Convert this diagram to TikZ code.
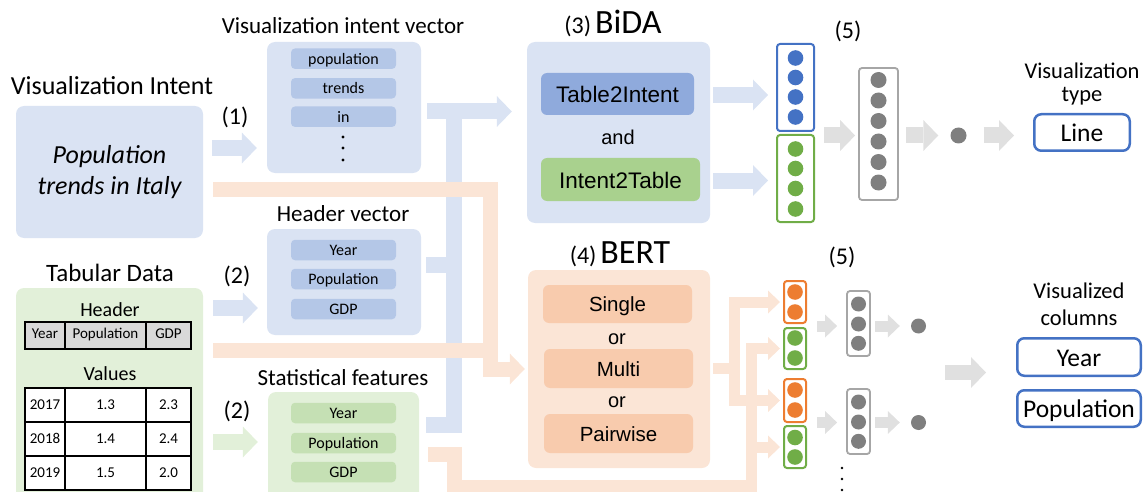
\documentclass[tikz,border=0pt]{standalone}
\usepackage{fontspec}
\setmainfont{Carlito}
\newfontfamily\arialfont{Liberation Sans}
\usetikzlibrary{arrows.meta}

\definecolor{paneblue}{HTML}{DAE3F3}
\definecolor{itemblue}{HTML}{B4C7E7}
\definecolor{panegreen}{HTML}{E2F0D9}
\definecolor{itemgreen}{HTML}{C5E0B4}
\definecolor{paneorange}{HTML}{FBE5D6}
\definecolor{itemorange}{HTML}{F8CBAD}
\definecolor{tiblue}{HTML}{8FAADC}
\definecolor{itgreen}{HTML}{A9D18E}
\definecolor{accblue}{HTML}{4472C4}
\definecolor{accgreen}{HTML}{70AD47}
\definecolor{accorange}{HTML}{ED7D31}
\definecolor{dotgray}{HTML}{7F7F7F}
\definecolor{boxgray}{HTML}{A6A6A6}
\definecolor{flowgray}{HTML}{E0E0E0}
\definecolor{cellgray}{HTML}{D9D9D9}

\newcommand{\fsz}[1]{\fontsize{#1}{#1}\selectfont}

\begin{document}
\begin{tikzpicture}[x=1pt,y=-1pt,
  pane/.style={fill=#1, rounded corners=8pt, inner sep=0pt},
  item/.style={fill=#1, rounded corners=4pt, minimum width=105pt, minimum height=20.5pt, inner sep=0pt, text height=11pt, text depth=0pt, font=\fsz{16}},
  bar/.style={fill=#1, rounded corners=6pt, inner sep=0pt, text depth=0pt},
  title/.style={anchor=base, inner sep=0pt, font=\fsz{23}},
  cell/.style={inner sep=0pt, text height=9pt, text depth=0pt, font=\fsz{15}},
  vec/.style={draw=#1, line width=2pt, rounded corners=3pt, inner sep=0pt},
  outbox/.style={draw=accblue, line width=2.5pt, rounded corners=7pt, inner sep=0pt, text height=18.5pt, text depth=0pt, font=\fsz{25.5}},
  flow/.style={draw=#1, line width=16pt, -{Triangle[width=31pt,length=15pt,line width=0pt]}},
  sflow/.style={draw=#1, line width=11pt, -{Triangle[width=23pt,length=12pt,line width=0pt]}},
  band/.style={draw=#1, line width=15pt},
  dot/.style={circle, fill=#1, inner sep=0pt, minimum size=15pt},
]
\useasboundingbox (0,0) rectangle (1143,492);
\clip (0,0) rectangle (1143,492);

% inputs
\node[title, font=\fsz{26}] (intenttitle) at (112,94.5) {Visualization Intent};
\node[pane=paneblue, minimum width=187pt, minimum height=132pt, align=center, font=\itshape\fontsize{26}{31}\selectfont] (intent) at (109.5,172) {Population\\trends in Italy};

\node[title, font=\fsz{25}] (tabtitle) at (110,281.7) {Tabular Data};
\node[pane=panegreen, minimum width=187pt, minimum height=222pt] (tab) at (109.5,399) {};
\node[title, font=\fsz{20}] (hdrtitle) at (110,316.7) {Header};
\draw[fill=cellgray, line width=1.5pt] (25,322) rectangle (191,349);
\draw[line width=1.5pt] (65,322) -- (65,349) (146,322) -- (146,349);
\node[cell] (hyear) at (45,334) {Year};
\node[cell] (hpop) at (105.5,334) {Population};
\node[cell] (hgdp) at (168.5,334) {GDP};
\node[title, font=\fsz{20}] (valtitle) at (110,380.7) {Values};
\draw[fill=white, line width=1.5pt] (25,388) rectangle (191,490);
\draw[line width=1.5pt] (65,388) -- (65,490) (146,388) -- (146,490) (25,422) -- (191,422) (25,456) -- (191,456);
\node[cell] (ya) at (45,405) {2017};
\node[cell] (pa) at (105.5,405) {1.3};
\node[cell] (ga) at (168.5,405) {2.3};
\node[cell] (yb) at (45,439) {2018};
\node[cell] (pb) at (105.5,439) {1.4};
\node[cell] (gb) at (168.5,439) {2.4};
\node[cell] (yc) at (45,473) {2019};
\node[cell] (pc) at (105.5,473) {1.5};
\node[cell] (gc) at (168.5,473) {2.0};

\node[title, font=\fsz{24}] (stepone) at (235,125) {(1)};
\node[title, font=\fsz{24}] (stephdr) at (237,283) {(2)};
\node[title, font=\fsz{24}] (stepstat) at (237,418) {(2)};

% vectors
\node[title] (ivectitle) at (343,33.5) {Visualization intent vector};
\node[pane=paneblue, minimum width=154pt, minimum height=131pt] (ivec) at (344,107.5) {};
\node[item=itemblue] (wpop) at (343.5,58.7) {population};
\node[item=itemblue] (wtrends) at (343.5,88.3) {trends};
\node[item=itemblue] (win) at (343.5,116.7) {in};
\fill (343,137) circle (1.6);
\fill (343,148) circle (1.6);
\fill (343,160) circle (1.6);

\node[title] (hvectitle) at (343,221.7) {Header vector};
\node[pane=paneblue, minimum width=154pt, minimum height=106pt] (hvec) at (344,282) {};
\node[item=itemblue] (hvyear) at (343.5,250) {Year};
\node[item=itemblue] (hvpop) at (343.5,279) {Population};
\node[item=itemblue] (hvgdp) at (343.5,309) {GDP};

\node[title] (stattitle) at (343,385) {Statistical features};
\node[pane=panegreen, minimum width=151pt, minimum height=118pt] (stat) at (343.5,451) {};
\node[item=itemgreen] (syear) at (343.5,413) {Year};
\node[item=itemgreen] (spop) at (343.5,443) {Population};
\node[item=itemgreen] (sgdp) at (343.5,472) {GDP};

% BiDA
\node[anchor=base, inner sep=0pt] (bidatitle) at (613,33.3) {\fsz{24}(3)\,\fsz{34}BiDA};
\node[pane=paneblue, minimum width=183pt, minimum height=181pt] (bida) at (618.5,132.5) {};
\node[bar=tiblue, minimum width=153pt, minimum height=42pt, text height=17pt, font=\arialfont\fsz{22.5}] (t2i) at (617.5,94) {Table2Intent};
\node[anchor=base, inner sep=0pt, font=\arialfont\fsz{20}] (andlabel) at (618,145) {and};
\node[bar=itgreen, minimum width=159pt, minimum height=43pt, text height=17pt, font=\arialfont\fsz{22.5}] (i2t) at (620.5,179.5) {Intent2Table};

% BERT
\node[anchor=base, inner sep=0pt] (berttitle) at (620,263.3) {\fsz{24}(4)\,\fsz{34}BERT};
\node[pane=paneorange, minimum width=182pt, minimum height=198pt] (bert) at (619,369) {};
\node[bar=itemorange, minimum width=149pt, minimum height=38pt, text height=15.4pt, font=\arialfont\fsz{20.5}] (single) at (617.5,304) {Single};
\node[anchor=base, inner sep=0pt, font=\arialfont\fsz{20}] (orone) at (617,344) {or};
\node[bar=itemorange, minimum width=149pt, minimum height=39pt, text height=15.4pt, font=\arialfont\fsz{20.5}] (multi) at (618.5,368.5) {Multi};
\node[anchor=base, inner sep=0pt, font=\arialfont\fsz{20}] (ortwo) at (617,407.7) {or};
\node[bar=itemorange, minimum width=149pt, minimum height=39pt, text height=15.4pt, font=\arialfont\fsz{20.5}] (pairwise) at (618.5,433.5) {Pairwise};

% embeddings
\node[vec=accblue, minimum width=37pt, minimum height=87pt] (tv) at (795.5,87.5) {};
\fill[accblue] (795.5,58) circle (7.8);
\fill[accblue] (795.5,77.5) circle (7.8);
\fill[accblue] (795.5,97) circle (7.8);
\fill[accblue] (795.5,117) circle (7.8);
\node[vec=accgreen, minimum width=37pt, minimum height=87pt] (gv) at (795.5,178.5) {};
\fill[accgreen] (795.5,149) circle (7.8);
\fill[accgreen] (795.5,168.5) circle (7.8);
\fill[accgreen] (795.5,188.5) circle (7.8);
\fill[accgreen] (795.5,209) circle (7.8);

\node[vec=accorange, minimum width=22pt, minimum height=42pt] (ov1) at (795,302) {};
\fill[accorange] (795,292) circle (7.8);
\fill[accorange] (795,312) circle (7.8);
\node[vec=accgreen, minimum width=22pt, minimum height=41pt] (gv1) at (795,348.5) {};
\fill[accgreen] (795,338) circle (7.8);
\fill[accgreen] (795,358) circle (7.8);
\node[vec=accorange, minimum width=22pt, minimum height=43pt] (ov2) at (795,400.5) {};
\fill[accorange] (795,390) circle (7.8);
\fill[accorange] (795,410) circle (7.8);
\node[vec=accgreen, minimum width=22pt, minimum height=42pt] (gv2) at (795,447) {};
\fill[accgreen] (795,437.5) circle (7.8);
\fill[accgreen] (795,457) circle (7.8);

% classifiers
\node[title, font=\fsz{24}] (steptype) at (848,38.5) {(5)};
\node[vec=boxgray, line width=1.8pt, minimum width=39pt, minimum height=132pt] (gbx) at (878.5,134) {};
\fill[dotgray] (878.5,80) circle (8);
\fill[dotgray] (878.5,100.5) circle (8);
\fill[dotgray] (878.5,121) circle (8);
\fill[dotgray] (878.5,141.5) circle (8);
\fill[dotgray] (878.5,162) circle (8);
\fill[dotgray] (878.5,182.5) circle (8);
\node[dot=dotgray, minimum size=16pt] (gdot) at (958.5,135.5) {};

\node[title, font=\fsz{24}] (stepcols) at (842,264) {(5)};
\node[vec=boxgray, line width=1.8pt, minimum width=23pt, minimum height=65pt] (sg1) at (858.5,323.5) {};
\fill[dotgray] (858.5,304) circle (7.5);
\fill[dotgray] (858.5,324) circle (7.5);
\fill[dotgray] (858.5,343.3) circle (7.5);
\node[dot=dotgray] (sdot1) at (918.5,326) {};
\node[vec=boxgray, line width=1.8pt, minimum width=23pt, minimum height=65pt] (sg2) at (858.5,421.5) {};
\fill[dotgray] (858.5,402) circle (7.5);
\fill[dotgray] (858.5,422) circle (7.5);
\fill[dotgray] (858.5,441.3) circle (7.5);
\node[dot=dotgray] (sdot2) at (918.5,422.5) {};
\fill (842,468) circle (1.3);
\fill (842,479) circle (1.3);
\fill (842,490) circle (1.3);

% outputs
\node[title, font=\fsz{22.5}] (typetitle) at (1082,78.3) {Visualization};
\node[title, font=\fsz{22.5}] (typesub) at (1082,101.7) {type};
\node[outbox, minimum width=95.5pt, minimum height=36.5pt] (linebox) at (1082,132.5) {Line};
\node[title, font=\fsz{22.5}] (coltitle) at (1079,298.3) {Visualized};
\node[title, font=\fsz{22.5}] (colsub) at (1079,325) {columns};
\node[outbox, minimum width=123.5pt, minimum height=37.5pt] (yearbox) at (1079,357) {Year};
\node[outbox, minimum width=123.5pt, minimum height=36.5pt] (popbox) at (1079,408.5) {Population};

% blue flows
\coordinate (bbus) at (453.5,111.5);
\coordinate (bfoot) at (453.5,425);
\draw[flow=paneblue, shorten <=9pt, shorten >=10pt] (intent.east |- 0,148) -- (ivec.west |- 0,148);
\draw[flow=paneblue, shorten <=10pt, shorten >=9pt] (tab.east |- 0,308) -- (hvec.west |- 0,308);
\draw[flow=panegreen, shorten <=10pt, shorten >=10pt] (tab.east |- 0,442) -- (stat.west |- 0,442);
\draw[band=paneblue, line width=16pt, shorten <=6pt] (ivec.east |- bbus) -- (bbus);
\draw[band=paneblue, line width=16pt, shorten <=5pt] (hvec.east |- 0,265) -- (bbus |- 0,265);
\draw[flow=paneblue, shorten <=7pt, shorten >=15pt] (stat.east |- bfoot) -- (bfoot) -- (bbus) -- (bida.west |- bbus);

% orange flows
\coordinate (oturn) at (490,189.5);
\coordinate (ojoin) at (497,350.5);
\draw[flow=paneorange, line width=15pt, shorten <=10pt, shorten >=3pt] (intent.east |- oturn) -- (oturn) -- (oturn |- 0,369) -- (bert.west |- 0,369);
\draw[band=paneorange, shorten <=10pt] (tab.east |- ojoin) -- (ojoin);

\coordinate (bfork) at (734,368.5);
\draw[sflow=paneorange, shorten <=3pt, shorten >=3pt] (bert.east |- bfork) -- (bfork) -- (bfork |- ov1.west) -- (ov1.west);
\draw[sflow=paneorange, shorten >=3pt] (bfork) -- (bfork |- ov2.west) -- (ov2.west);

\coordinate (sturn) at (454,487.5);
\coordinate (sfork) at (751,487.5);
\draw[band=paneorange, shorten <=9pt] (stat.east |- 0,454.5) -- (sturn |- 0,454.5) -- (sturn) -- ([xshift=5.5pt]sfork);
\draw[sflow=paneorange, shorten >=3pt] (sfork) -- (sfork |- gv1.west) -- (gv1.west);
\draw[sflow=paneorange, shorten >=3pt] (sfork |- gv2.west) -- (gv2.west);

% into the embeddings and classifiers
\draw[flow=paneblue, shorten <=3pt, shorten >=8pt] (bida.east |- 0,95) -- (tv.west |- 0,95);
\draw[flow=paneblue, shorten <=3pt, shorten >=8pt] (bida.east |- 0,180.5) -- (gv.west |- 0,180.5);
\draw[flow=flowgray, shorten <=9pt, shorten >=3pt] (tv.east |- gdot) -- (gbx.west |- gdot);
\draw[flow=flowgray, shorten <=7pt, shorten >=12pt] (gbx.east |- gdot) -- (gdot);
\draw[flow=flowgray, shorten <=17pt, shorten >=19pt] (gdot) -- (linebox.west |- gdot);

\draw[sflow=flowgray, shorten <=10pt, shorten >=9pt] (ov1.east |- sdot1) -- (sg1.west |- sdot1);
\draw[sflow=flowgray, shorten <=4pt, shorten >=11pt] (sg1.east |- sdot1) -- (sdot1);
\draw[sflow=flowgray, shorten <=10pt, shorten >=9pt] (ov2.east |- sdot2) -- (sg2.west |- sdot2);
\draw[sflow=flowgray, shorten <=4pt, shorten >=11pt] (sg2.east |- sdot2) -- (sdot2);
\draw[flow=flowgray, line width=15pt, shorten <=19pt, shorten >=30pt] (sdot1.east |- 0,372.5) -- (yearbox.west |- 0,372.5);
\end{tikzpicture}
\end{document}
